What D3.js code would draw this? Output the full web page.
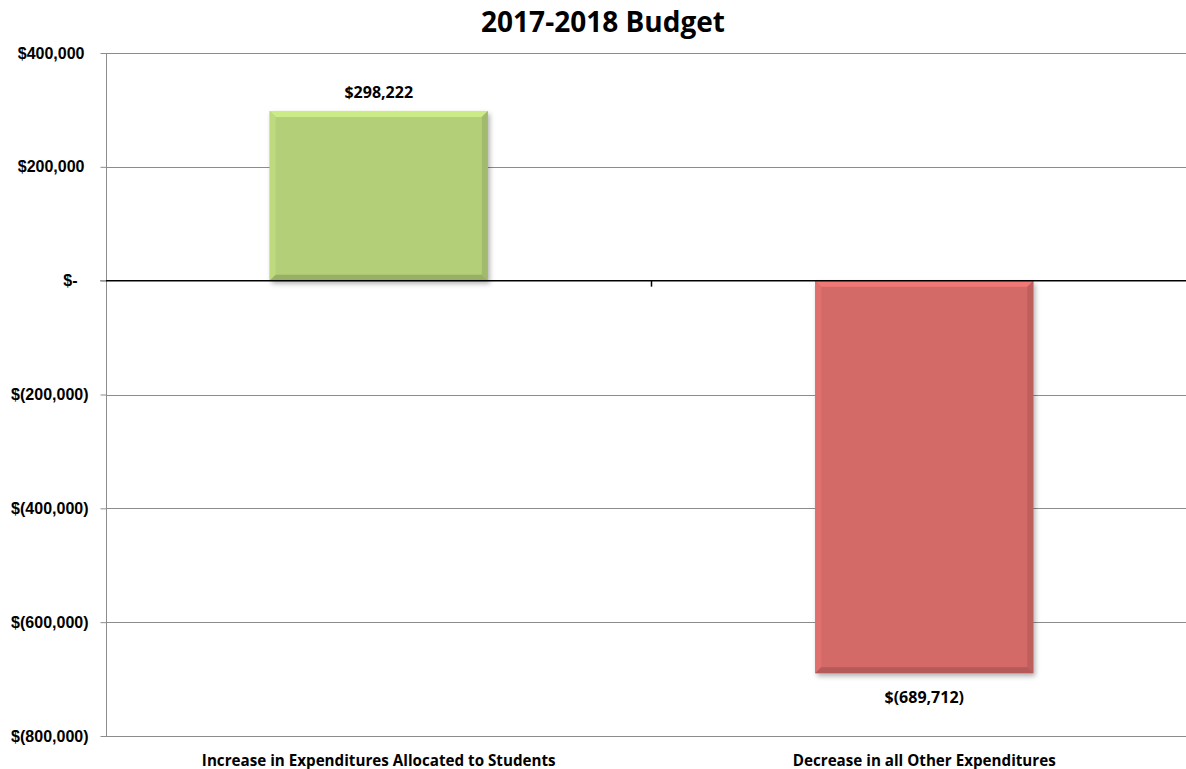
<!DOCTYPE html>
<html>
<head>
<meta charset="utf-8">
<script src="https://cdn.jsdelivr.net/npm/d3@7"></script>
<style>
  html, body { margin: 0; padding: 0; background: #fff; }
  svg { display: block; font-family: "Open Sans", Lato, "Liberation Sans", sans-serif; }
</style>
</head>
<body>
<svg id="chart" width="1186" height="769"></svg>
<script>
// Budget change by category
const categories = ["Increase in Expenditures Allocated to Students", "Decrease in all Other Expenditures"];
const values = [298222, -689712];
const barColors = ["#b3cf77", "#d46a67"];
const tickValues = [400000, 200000, 0, -200000, -400000, -600000, -800000];
const tickLabels = ["$400,000", "$200,000", "$-", "$(200,000)", "$(400,000)", "$(600,000)", "$(800,000)"];
const title = "2017-2018 Budget";

const svg = d3.select("#chart");
const plotLeft = 106, plotRight = 1197, plotTop = 53, plotBottom = 736;

const x = d3.scaleBand().domain(categories).range([plotLeft, plotRight]).paddingInner(0.6).paddingOuter(0.3);
const y = d3.scaleLinear().domain([-800000, 400000]).range([plotBottom, plotTop]);

const defs = svg.append("defs");
const shadow = defs.append("filter").attr("id", "shadow")
  .attr("x", "-10%").attr("y", "-10%").attr("width", "130%").attr("height", "130%");
shadow.append("feDropShadow").attr("dx", 2).attr("dy", 3).attr("stdDeviation", 2.5)
  .attr("flood-color", "#000").attr("flood-opacity", 0.3);

// title
svg.append("text").attr("x", 603).attr("y", 32).attr("text-anchor", "middle")
  .attr("font-size", 28).attr("font-weight", "bold").attr("fill", "#000").text(title);

// horizontal gridlines
svg.append("g").selectAll("line").data(tickValues.filter(v => v !== 0)).join("line")
  .attr("x1", plotLeft).attr("x2", 1186)
  .attr("y1", d => Math.round(y(d)) + 0.5).attr("y2", d => Math.round(y(d)) + 0.5)
  .attr("stroke", "#8c8c8c").attr("stroke-width", 1);

// y axis (accounting format: positives leave room for ")", zero shows a dash)
const labelShift = s => s.endsWith(")") ? 0 : (s.endsWith("-") ? -11 : -4);
const yAxis = d3.axisLeft(y).tickValues(tickValues).tickSize(6).tickPadding(12)
  .tickFormat((d, i) => tickLabels[i]);
const yg = svg.append("g").attr("transform", `translate(${plotLeft + 0.5},0)`).call(yAxis);
yg.select(".domain").attr("stroke", "#8c8c8c").attr("d", `M0,${y(400000)}V${y(-800000)}`);
yg.selectAll(".tick line").attr("stroke", "#8c8c8c");
yg.selectAll(".tick text").attr("font-size", 16).attr("font-weight", "bold").attr("fill", "#000")
  .attr("x", (d, i) => -18 + labelShift(tickLabels[i]));

// bars with bevelled edges
const bev = 6;
const barG = svg.append("g");
categories.forEach((c, i) => {
  const v = values[i];
  const x0 = x(c), w = x.bandwidth();
  const y0 = Math.min(y(v), y(0)), h = Math.abs(y(v) - y(0));
  const g = barG.append("g");
  g.append("rect").attr("x", x0).attr("y", y0).attr("width", w).attr("height", h)
    .attr("fill", barColors[i]).attr("filter", "url(#shadow)");
  const base = d3.color(barColors[i]);
  const x1 = x0 + w, y1 = y0 + h;
  const edges = [
    { pts: [[x0, y0], [x1, y0], [x1 - bev, y0 + bev], [x0 + bev, y0 + bev]], col: base.brighter(0.35) },
    { pts: [[x0, y0], [x0 + bev, y0 + bev], [x0 + bev, y1 - bev], [x0, y1]], col: base.brighter(0.15) },
    { pts: [[x1, y0], [x1, y1], [x1 - bev, y1 - bev], [x1 - bev, y0 + bev]], col: base.darker(0.3) },
    { pts: [[x0, y1], [x0 + bev, y1 - bev], [x1 - bev, y1 - bev], [x1, y1]], col: base.darker(0.45) }
  ];
  edges.forEach(e => {
    g.append("polygon").attr("points", e.pts.map(p => p.join(",")).join(" ")).attr("fill", e.col);
  });
  // value label
  const fmt = d3.format(",");
  const label = v < 0 ? `$(${fmt(-v)})` : `$${fmt(v)}`;
  g.append("text").attr("x", x0 + w / 2)
    .attr("y", v < 0 ? y(v) + 30 : y(v) - 13)
    .attr("text-anchor", "middle").attr("font-size", 16).attr("font-weight", "bold")
    .attr("fill", "#000").text(label);
});

// zero axis with category divider tick
svg.append("line").attr("x1", plotLeft).attr("x2", 1186).attr("y1", y(0)).attr("y2", y(0))
  .attr("stroke", "#000").attr("stroke-width", 1.5);
svg.append("line").attr("x1", plotLeft - 6).attr("x2", plotLeft).attr("y1", y(0)).attr("y2", y(0))
  .attr("stroke", "#8c8c8c");
const step = x.step();
const divX = x(categories[0]) + x.bandwidth() / 2 + step / 2;
svg.append("line").attr("x1", divX).attr("x2", divX)
  .attr("y1", y(0)).attr("y2", y(0) + 6).attr("stroke", "#000").attr("stroke-width", 1.5);

// category labels along the bottom
svg.append("g").selectAll("text").data(categories).join("text")
  .attr("x", d => x(d) + x.bandwidth() / 2).attr("y", 766)
  .attr("text-anchor", "middle").attr("font-size", 15.2).attr("font-weight", "bold")
  .attr("fill", "#000").text(d => d);
</script>
</body>
</html>
